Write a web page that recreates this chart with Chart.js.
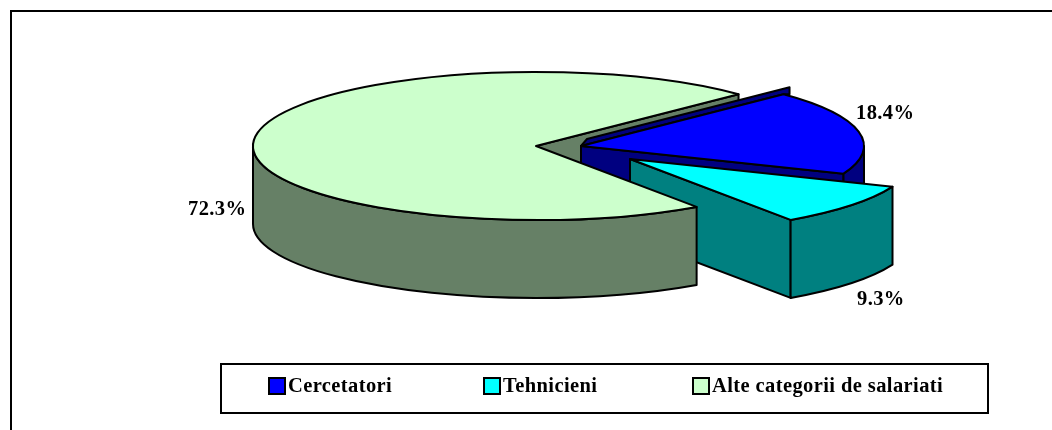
<!DOCTYPE html>
<html>
<head>
<meta charset="utf-8">
<title>Salariati</title>
<script src="https://cdn.jsdelivr.net/npm/chart.js@4"></script>
<style>
  html, body { margin: 0; background: #fff; overflow: hidden; }
  #wrap { position: relative; width: 1052px; height: 430px; font-family: "Liberation Serif", serif; font-weight: bold; color: #000; }
  #chart { position: absolute; left: 0; top: 0; }
  #frame { position: absolute; left: 10px; top: 10px; right: 0; bottom: 0; border-top: 2px solid #000; border-left: 2px solid #000; }
  #legend { position: absolute; left: 220px; top: 363px; width: 765px; height: 47px; border: 2px solid #000; box-sizing: content-box; }
  .item { position: absolute; top: 12px; height: 18px; font-size: 20.5px; line-height: 18px; white-space: nowrap; letter-spacing: .4px; }
  .swatch { position: absolute; left: 0; top: 0; width: 14px; height: 14px; border: 2px solid #000; }
  .item span { position: absolute; left: 20px; top: -1px; }
  .pct { position: absolute; font-size: 20.5px; line-height: 20px; white-space: nowrap; letter-spacing: .4px; }
</style>
</head>
<body>
<div id="wrap">
  <canvas id="chart" width="1052" height="430"></canvas>
  <div id="frame"></div>
  <div id="legend"></div>
</div>
<script>
const categories = ["Cercetatori", "Tehnicieni", "Alte categorii de salariati"];
const shares = [18.4, 9.3, 72.3];
const topColors = ["#0000ff", "#00ffff", "#ccffcc"];
const wallColors = ["#000080", "#008080", "#668066"];

// where things sit on the page
const pie = { x: 536, y: 146, rx: 283, ry: 74, depth: 78 };
const shifted = [[45, 0], [94, 13], [0, 0]];
const blueBack = [6, -7];
const labelPos = [[856, 102], [857, 288], [188, 198]];
const legendPos = [46, 261, 470];

function inPie(ctx, arc, i, down, fn){
  ctx.save();
  ctx.translate(pie.x + shifted[i][0], pie.y + shifted[i][1] + down);
  ctx.scale(pie.rx / arc.outerRadius, pie.ry / arc.outerRadius);
  fn();
  ctx.restore();
}

function rimPoint(arc, i, angle){
  return [
    pie.x + shifted[i][0] + Math.cos(angle) * pie.rx,
    pie.y + shifted[i][1] + Math.sin(angle) * pie.ry
  ];
}

function paint(ctx, color){
  ctx.fillStyle = color;
  ctx.fill();
  ctx.stroke();
}

// flat wall under one straight edge of a slice
function edgeWall(ctx, arc, i, angle, color){
  const c = [pie.x + shifted[i][0], pie.y + shifted[i][1]];
  const p = rimPoint(arc, i, angle);
  ctx.beginPath();
  ctx.moveTo(c[0], c[1]);
  ctx.lineTo(p[0], p[1]);
  ctx.lineTo(p[0], p[1] + pie.depth);
  ctx.lineTo(c[0], c[1] + pie.depth);
  ctx.closePath();
  paint(ctx, color);
}

// curved wall, only the part that faces the viewer
function rimWall(ctx, arc, i, color){
  const a0 = Math.max(arc.startAngle, 0);
  const a1 = Math.min(arc.endAngle, Math.PI);
  ctx.beginPath();
  inPie(ctx, arc, i, 0, () => ctx.arc(0, 0, arc.outerRadius, a0, a1));
  inPie(ctx, arc, i, pie.depth, () => ctx.arc(0, 0, arc.outerRadius, a1, a0, true));
  ctx.closePath();
  paint(ctx, color);
}

function topFace(ctx, arc, i){
  inPie(ctx, arc, i, 0, () => {
    ctx.translate(-arc.x, -arc.y);
    arc.draw(ctx);
  });
  ctx.beginPath();
  inPie(ctx, arc, i, 0, () => {
    ctx.moveTo(0, 0);
    ctx.arc(0, 0, arc.outerRadius, arc.startAngle, arc.endAngle);
    ctx.closePath();
  });
  ctx.stroke();
}

function blueSliver(ctx, arc, i){
  const c = [pie.x + shifted[i][0], pie.y + shifted[i][1]];
  const p = rimPoint(arc, i, arc.startAngle);
  ctx.beginPath();
  ctx.moveTo(c[0], c[1]);
  ctx.lineTo(c[0] + blueBack[0], c[1] + blueBack[1]);
  ctx.lineTo(p[0] + blueBack[0], p[1] + blueBack[1]);
  ctx.lineTo(p[0] + blueBack[0], p[1]);
  ctx.lineTo(p[0], p[1]);
  ctx.closePath();
  paint(ctx, wallColors[0]);
}

const pie3d = {
  id: "pie3d",
  beforeDatasetDraw(chart, args){
    const ctx = chart.ctx;
    const arcs = args.meta.data;
    const [blue, cyan, green] = arcs;
    ctx.save();
    ctx.strokeStyle = "#000";
    ctx.lineWidth = 2;
    ctx.lineJoin = "round";

    // back cut of the big slice, seen through the gap
    edgeWall(ctx, green, 2, green.endAngle, wallColors[2]);

    blueSliver(ctx, blue, 0);
    edgeWall(ctx, blue, 0, blue.endAngle, wallColors[0]);
    rimWall(ctx, blue, 0, wallColors[0]);
    topFace(ctx, blue, 0);

    edgeWall(ctx, cyan, 1, cyan.endAngle, wallColors[1]);
    rimWall(ctx, cyan, 1, wallColors[1]);
    topFace(ctx, cyan, 1);

    rimWall(ctx, green, 2, wallColors[2]);
    topFace(ctx, green, 2);

    ctx.restore();
    return false;
  }
};

new Chart(document.getElementById("chart"), {
  type: "pie",
  data: {
    labels: categories,
    datasets: [{ data: shares, backgroundColor: topColors, borderWidth: 0 }]
  },
  options: {
    responsive: false,
    animation: false,
    rotation: 45.7,
    events: [],
    plugins: { legend: { display: false }, tooltip: { enabled: false } }
  },
  plugins: [pie3d]
});

const wrap = document.getElementById("wrap");
const legend = document.getElementById("legend");

shares.forEach((v, i) => {
  const el = document.createElement("div");
  el.className = "pct";
  el.style.left = labelPos[i][0] + "px";
  el.style.top = labelPos[i][1] + "px";
  el.textContent = v.toFixed(1) + "%";
  wrap.appendChild(el);
});

categories.forEach((name, i) => {
  const el = document.createElement("div");
  el.className = "item";
  el.style.left = legendPos[i] + "px";
  el.innerHTML = `<div class="swatch" style="background:${topColors[i]}"></div><span>${name}</span>`;
  legend.appendChild(el);
});
</script>
</body>
</html>
